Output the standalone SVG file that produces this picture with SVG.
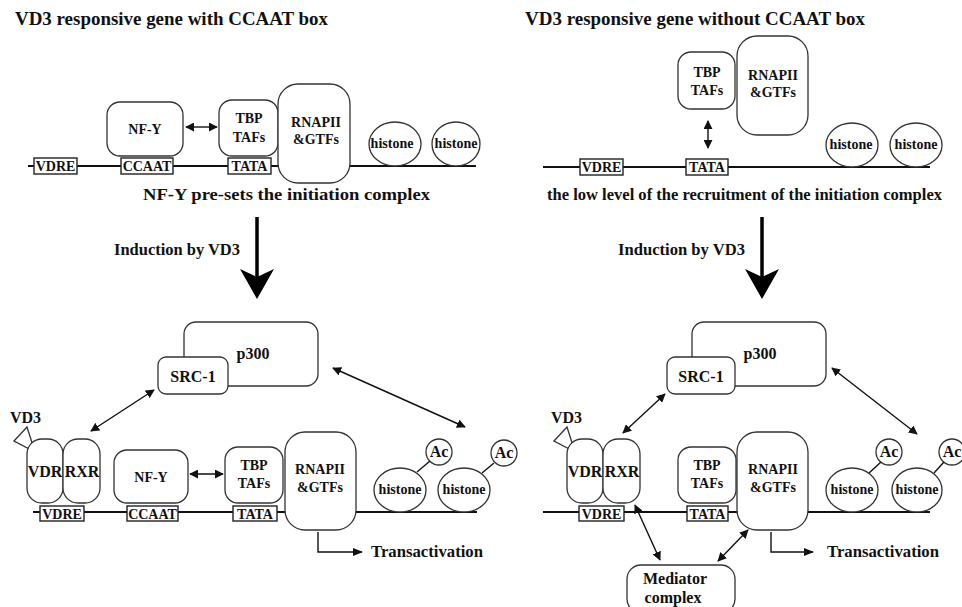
<svg xmlns="http://www.w3.org/2000/svg" width="962" height="607" viewBox="0 0 962 607">
<defs>
<marker id="ah" viewBox="0 0 10 10" refX="9" refY="5" markerWidth="9" markerHeight="9" markerUnits="userSpaceOnUse" orient="auto-start-reverse">
<path d="M0,0 L10,5 L0,10 Z" fill="#111"/>
</marker>
<marker id="ah2" viewBox="0 0 10 10" refX="9" refY="5" markerWidth="10" markerHeight="10" markerUnits="userSpaceOnUse" orient="auto">
<path d="M0,1 L10,5 L0,9 Z" fill="#111"/>
</marker>
</defs>
<style>
text{font-family:"Liberation Serif","Times New Roman",serif;font-weight:bold;fill:#111}
.t{font-size:18px}
.s{font-size:16px}
.n{font-size:14px;text-anchor:middle}
.m{font-size:16px;text-anchor:middle}
.dna{stroke:#111;stroke-width:2;fill:none}
.box{fill:#fff;stroke:#222;stroke-width:1.4}
.nd{fill:#fff;stroke:#333;stroke-width:1.3}
.c{stroke:#111;stroke-width:1.4;fill:none}
.big{stroke:#000;stroke-width:3.5;fill:none}
</style>
<rect width="962" height="607" fill="#fff"/>

<!-- Titles and captions -->
<text class="t" x="15" y="25" textLength="313" lengthAdjust="spacingAndGlyphs">VD3 responsive gene with CCAAT box</text>
<text class="t" x="525" y="25" textLength="340" lengthAdjust="spacingAndGlyphs">VD3 responsive gene without CCAAT box</text>
<text class="s" x="143" y="200" textLength="287" lengthAdjust="spacingAndGlyphs">NF-Y pre-sets the initiation complex</text>
<text class="s" x="547" y="200" textLength="395" lengthAdjust="spacingAndGlyphs">the low level of the recruitment of the initiation complex</text>
<text class="s" x="114" y="255" textLength="126" lengthAdjust="spacingAndGlyphs">Induction by VD3</text>
<text class="s" x="618" y="255" textLength="127" lengthAdjust="spacingAndGlyphs">Induction by VD3</text>

<!-- DNA lines -->
<g id="dna">
<path class="dna" d="M28,166 H476"/>
<path class="dna" d="M543,167 H930"/>
<path class="dna" d="M33,512 H477"/>
<path class="dna" d="M543,512 H930"/>
</g>

<!-- Top-left panel -->
<g id="tl-vdre"><rect class="box" x="34" y="158" width="43" height="16"/><text class="n" x="55.5" y="171">VDRE</text></g>
<g id="tl-ccaat"><rect class="box" x="121" y="158" width="52" height="16"/><text class="n" x="147" y="171">CCAAT</text></g>
<g id="tl-tata"><rect class="box" x="228" y="158" width="43" height="16"/><text class="n" x="249.5" y="171">TATA</text></g>
<g id="tl-nfy"><rect class="nd" x="107" y="102" width="76" height="54" rx="13"/><text class="n" x="145" y="134">NF-Y</text></g>
<g id="tl-tbp"><rect class="nd" x="219" y="100" width="59" height="56" rx="13"/><text class="n" x="249" y="123">TBP</text><text class="n" x="249" y="142">TAFs</text></g>
<g id="tl-rnap"><rect class="nd" x="278" y="84" width="72" height="99" rx="20"/><text class="n" x="316" y="127">RNAPII</text><text class="n" x="316" y="144">&amp;GTFs</text></g>
<g id="tl-h1"><ellipse class="nd" cx="395" cy="144" rx="26" ry="22"/><text class="n" x="392" y="148">histone</text></g>
<g id="tl-h2"><ellipse class="nd" cx="456" cy="144" rx="24" ry="22"/><text class="n" x="456" y="148">histone</text></g>

<!-- Top-right panel -->
<g id="tr-vdre"><rect class="box" x="580" y="159" width="43" height="16"/><text class="n" x="601.5" y="172">VDRE</text></g>
<g id="tr-tata"><rect class="box" x="686" y="159" width="42" height="16"/><text class="n" x="707" y="172">TATA</text></g>
<g id="tr-tbp"><rect class="nd" x="678" y="52" width="57" height="57" rx="13"/><text class="n" x="707" y="77">TBP</text><text class="n" x="707" y="95">TAFs</text></g>
<g id="tr-rnap"><rect class="nd" x="737" y="36" width="71" height="99" rx="20"/><text class="n" x="773" y="80">RNAPII</text><text class="n" x="773" y="97">&amp;GTFs</text></g>
<g id="tr-h1"><ellipse class="nd" cx="852" cy="145" rx="26" ry="22"/><text class="n" x="851" y="149">histone</text></g>
<g id="tr-h2"><ellipse class="nd" cx="916" cy="145" rx="26" ry="22"/><text class="n" x="916" y="149">histone</text></g>

<!-- Bottom-left panel -->
<g id="bl-p300"><rect class="nd" x="184" y="322" width="134" height="64" rx="12"/><text class="m" x="253" y="359">p300</text></g>
<g id="bl-src"><rect class="nd" x="158" y="357" width="70" height="37" rx="8"/><text class="m" x="193" y="382">SRC-1</text></g>
<g id="bl-vd3"><text class="s" x="10" y="423">VD3</text><polygon class="nd" points="14,441 27,427 35,452"/></g>
<g id="bl-vdr"><rect class="nd" x="27" y="439" width="36" height="64" rx="15"/><text class="m" x="45" y="477">VDR</text></g>
<g id="bl-rxr"><rect class="nd" x="63" y="439" width="37" height="64" rx="15"/><text class="m" x="82" y="477">RXR</text></g>
<g id="bl-vdre"><rect class="box" x="40" y="506" width="44" height="15"/><text class="n" x="62" y="519">VDRE</text></g>
<g id="bl-nfy"><rect class="nd" x="114" y="450" width="74" height="53" rx="13"/><text class="n" x="151" y="482">NF-Y</text></g>
<g id="bl-ccaat"><rect class="box" x="127" y="506" width="51" height="15"/><text class="n" x="152.5" y="519">CCAAT</text></g>
<g id="bl-tbp"><rect class="nd" x="225" y="447" width="58" height="56" rx="13"/><text class="n" x="254" y="470">TBP</text><text class="n" x="254" y="488">TAFs</text></g>
<g id="bl-tata"><rect class="box" x="233" y="506" width="44" height="15"/><text class="n" x="255" y="519">TATA</text></g>
<g id="bl-rnap"><rect class="nd" x="285" y="432" width="71" height="98" rx="20"/><text class="n" x="320" y="474">RNAPII</text><text class="n" x="320" y="492">&amp;GTFs</text></g>
<g id="bl-h1"><ellipse class="nd" cx="400" cy="490" rx="26" ry="22"/><text class="n" x="400" y="494">histone</text></g>
<g id="bl-ac1"><circle class="nd" cx="439" cy="452" r="13"/><text class="m" x="439" y="457">Ac</text></g>
<g id="bl-h2"><ellipse class="nd" cx="464" cy="490" rx="26" ry="22"/><text class="n" x="464" y="494">histone</text></g>
<g id="bl-ac2"><circle class="nd" cx="504" cy="453" r="13"/><text class="m" x="504" y="458">Ac</text></g>
<text class="s" x="371" y="557" textLength="112" lengthAdjust="spacingAndGlyphs">Transactivation</text>

<!-- Bottom-right panel -->
<g id="br-p300"><rect class="nd" x="692" y="322" width="134" height="64" rx="12"/><text class="m" x="760" y="359">p300</text></g>
<g id="br-src"><rect class="nd" x="667" y="357" width="68" height="37" rx="8"/><text class="m" x="701" y="382">SRC-1</text></g>
<g id="br-vd3"><text class="s" x="551" y="423">VD3</text><polygon class="nd" points="554,441 567,427 575,452"/></g>
<g id="br-vdr"><rect class="nd" x="567" y="439" width="36" height="64" rx="15"/><text class="m" x="585" y="477">VDR</text></g>
<g id="br-rxr"><rect class="nd" x="603" y="439" width="37" height="64" rx="15"/><text class="m" x="622" y="477">RXR</text></g>
<g id="br-vdre"><rect class="box" x="579" y="506" width="45" height="15"/><text class="n" x="601.5" y="519">VDRE</text></g>
<g id="br-tbp"><rect class="nd" x="678" y="447" width="58" height="56" rx="13"/><text class="n" x="707" y="470">TBP</text><text class="n" x="707" y="488">TAFs</text></g>
<g id="br-tata"><rect class="box" x="687" y="506" width="41" height="15"/><text class="n" x="707.5" y="519">TATA</text></g>
<g id="br-rnap"><rect class="nd" x="737" y="432" width="71" height="98" rx="20"/><text class="n" x="773" y="474">RNAPII</text><text class="n" x="773" y="492">&amp;GTFs</text></g>
<g id="br-med"><rect class="nd" x="627" y="565" width="108" height="48" rx="14"/><text class="m" x="675" y="584">Mediator</text><text class="m" x="673" y="603">complex</text></g>
<g id="br-h1"><ellipse class="nd" cx="852" cy="490" rx="26" ry="22"/><text class="n" x="852" y="494">histone</text></g>
<g id="br-ac1"><circle class="nd" cx="889" cy="452" r="13"/><text class="m" x="889" y="457">Ac</text></g>
<g id="br-h2"><ellipse class="nd" cx="917" cy="490" rx="25" ry="22"/><text class="n" x="917" y="494">histone</text></g>
<g id="br-ac2"><circle class="nd" cx="952" cy="452" r="13"/><text class="m" x="952" y="457">Ac</text></g>
<text class="s" x="827" y="557" textLength="112" lengthAdjust="spacingAndGlyphs">Transactivation</text>

<!-- Connectors -->
<g id="connectors">
<path class="c" d="M186,127 H217" marker-start="url(#ah)" marker-end="url(#ah)"/>
<path class="c" d="M708,121 V148" marker-start="url(#ah)" marker-end="url(#ah)"/>
<path class="big" d="M257,217 V280"/>
<path d="M240,269 L257,277 L274,269 L257,299 Z" fill="#000"/>
<path class="big" d="M762,217 V280"/>
<path d="M745,269 L762,277 L779,269 L762,299 Z" fill="#000"/>
<path class="c" d="M91,431 L154,390" marker-start="url(#ah)" marker-end="url(#ah)"/>
<path class="c" d="M333,368 L465,427" marker-start="url(#ah)" marker-end="url(#ah)"/>
<path class="c" d="M190,474 H223" marker-start="url(#ah)" marker-end="url(#ah)"/>
<path class="c" d="M318,532 V552 H362" marker-end="url(#ah2)"/>
<path class="c" d="M417,472 L430,461"/>
<path class="c" d="M482,473 L494,463"/>
<path class="c" d="M623,433 L665,394" marker-start="url(#ah)" marker-end="url(#ah)"/>
<path class="c" d="M832,368 L917,434" marker-start="url(#ah)" marker-end="url(#ah)"/>
<path class="c" d="M635,505 L660,560" marker-start="url(#ah)" marker-end="url(#ah)"/>
<path class="c" d="M718,561 L748,530" marker-start="url(#ah)" marker-end="url(#ah)"/>
<path class="c" d="M771,532 V552 H813" marker-end="url(#ah2)"/>
<path class="c" d="M869,473 L881,462"/>
<path class="c" d="M934,473 L944,462"/>
</g>
</svg>
